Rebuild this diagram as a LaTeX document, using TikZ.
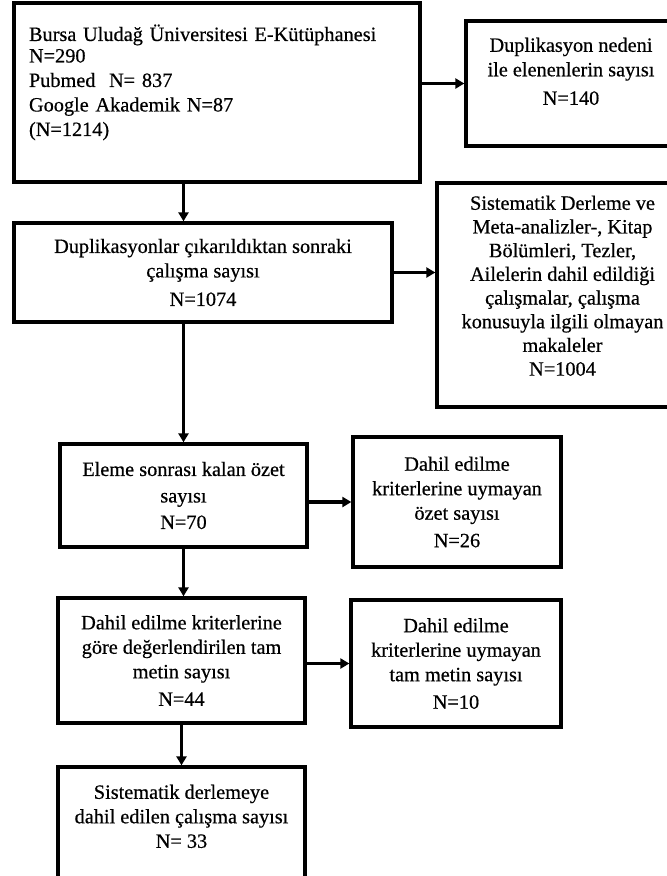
\documentclass[tikz,border=0pt]{standalone}
\usepackage{fontspec}
\setmainfont[FakeBold=0.5]{Liberation Serif}
\usetikzlibrary{arrows.meta}
\tikzset{
  kutu/.style={draw=black, line width=3.3pt, inner sep=0pt, align=center,
    font=\fontsize{20.3}{24.5}\selectfont},
  ok/.style={draw=black, line width=3.3pt, -{Triangle[length=9pt,width=10pt]}}
}

\begin{document}
\begin{tikzpicture}[x=1pt,y=-1pt]
  \useasboundingbox (0,0) rectangle (667,876);
  % sol sutun
  \node [kutu, align=left, text width=376, inner xsep=15, minimum height=179] (kaynak) at (217,92.5)
    {Bursa Uludağ Üniversitesi E-Kütüphanesi\\[-3pt] N=290\\ Pubmed~ N= 837\\ Google Akademik N=87\\ (N=1214)\\ \mbox{}};
  \node [kutu, minimum width=378, minimum height=99] (cikan) at (203,272.5)
    {Duplikasyonlar çıkarıldıktan sonraki\\ çalışma sayısı\\[4pt] N=1074};
  \node [kutu, minimum width=247, minimum height=103] (ozet) at (183.5,495.5)
    {Eleme sonrası kalan özet\\[2pt] sayısı\\[2pt] N=70};
  \node [kutu, minimum width=247, minimum height=125] (tam) at (181.5,660.5)
    {Dahil edilme kriterlerine\\ göre değerlendirilen tam\\ metin sayısı\\[3pt] N=44};
  \node [kutu, minimum width=247, minimum height=133] (son) at (181.5,833.5)
    {Sistematik derlemeye\\ dahil edilen çalışma sayısı\\ N= 33\\[10pt] \mbox{}};
  % sag sutun
  \node [kutu, minimum width=210, minimum height=125] (tekrar) at (571,83.5)
    {Duplikasyon nedeni\\ ile elenenlerin sayısı\\[4pt] N=140\\ \mbox{}};
  \node [kutu, minimum width=251, minimum height=224, font=\fontsize{20.3}{23.7}\selectfont] (dislanan) at (562.5,295)
    {Sistematik Derleme ve\\ Meta-analizler-, Kitap\\ Bölümleri, Tezler,\\ Ailelerin dahil edildiği\\ çalışmalar, çalışma\\ konusuyla ilgili olmayan\\ makaleler\\ N=1004\\[-5pt] \mbox{}};
  \node [kutu, minimum width=208, minimum height=130] (ozetdis) at (457,502)
    {Dahil edilme\\ kriterlerine uymayan\\ özet sayısı\\[3pt] N=26};
  \node [kutu, minimum width=210, minimum height=127] (tamdis) at (456,663.5)
    {Dahil edilme\\ kriterlerine uymayan\\ tam metin sayısı\\[3pt] N=10};
  % oklar
  \draw [ok] (kaynak.east |- tekrar.west) -- (tekrar.west);
  \draw [ok] (kaynak.south -| ozet.north) -- (cikan.north -| ozet.north);
  \draw [ok] (cikan.east) -- (cikan.east -| dislanan.west);
  \draw [ok] (cikan.south -| ozet.north) -- (ozet.north);
  \draw [ok] (ozet.east |- ozetdis.west) -- (ozetdis.west);
  \draw [ok] (ozet.south) -- (ozet.south |- tam.north);
  \draw [ok] (tam.east |- tamdis.west) -- (tamdis.west);
  \draw [ok] (tam.south) -- (tam.south |- son.north);
\end{tikzpicture}
\end{document}
